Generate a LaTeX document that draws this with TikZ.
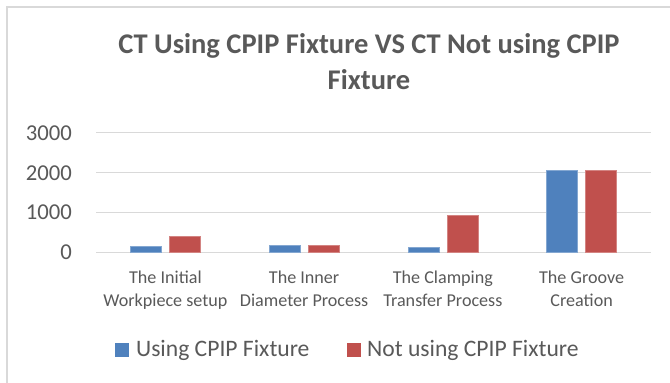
\documentclass[tikz,border=0pt]{standalone}
\usepackage{fontspec}
\setmainfont{Carlito}
\usetikzlibrary{positioning}

\definecolor{usingblue}{HTML}{4F81BD}
\definecolor{notusingred}{HTML}{C0504D}
\definecolor{gridgray}{HTML}{D9D9D9}
\definecolor{labelgray}{HTML}{595959}

\begin{document}
\begin{tikzpicture}[
		x=1pt,
		y=-1pt,
		every node/.style={
			text=labelgray,
			inner sep=0pt,
		},
		gridline/.style={
			draw=gridgray,
			line width=1.5pt,
		},
		ticklabel/.style={
			anchor=east,
			font=\fontsize{22.7}{24}\selectfont,
		},
		catlabel/.style={
			anchor=north,
			align=center,
			font=\fontsize{18.1}{22.5}\selectfont,
		},
		usingbar/.style={
			fill=usingblue,
			draw=usingblue!70!white,
			line width=0.6pt,
		},
		notusingbar/.style={
			fill=notusingred,
			draw=notusingred!70!white,
			line width=0.6pt,
		},
		legendkey/.style={
			minimum size=14pt,
			draw=none,
		},
		legendtext/.style={
			font=\fontsize{23.6}{26}\selectfont,
		},
	]
		\useasboundingbox (0,0) rectangle (670,383);

		% chart frame
		\draw[draw=gridgray, line width=1.5pt] (7,383) -- (7,7) -- (670,7);

		% title
		\node[anchor=north, align=center, font=\fontsize{28.5}{36}\selectfont\bfseries]
			(title) at (369,33.5) {CT Using CPIP Fixture VS CT Not using CPIP\\Fixture};

		% gridlines and axis values
		\foreach \val [count=\i] in {0,1000,2000,3000} {
			\draw[gridline] (96,252.7-\val*0.04) -- (651,252.7-\val*0.04);
			\node[ticklabel] (tick\i) at (72,252.7-\val*0.04) {\val};
		}

		% bars
		\foreach \cx/\vusing/\vnot in {165.4/150/410, 304.1/185/185, 442.9/145/935, 581.6/2050/2050} {
			\draw[usingbar] (\cx-35,252.7) rectangle (\cx-4,252.7-\vusing*0.04);
			\draw[notusingbar] (\cx+4,252.7) rectangle (\cx+35,252.7-\vnot*0.04);
		}

		% categories
		\node[catlabel] (catinitial) at (165.4,271) {The Initial\\Workpiece setup};
		\node[catlabel] (catinner) at (304.1,271) {The Inner\\Diameter Process};
		\node[catlabel] (catclamping) at (442.9,271) {The Clamping\\Transfer Process};
		\node[catlabel] (catgroove) at (581.6,271) {The Groove\\Creation};

		% legend
		\node[legendkey, fill=usingblue] (keyusing) at (122,350.3) {};
		\node[legendtext, right=6.7pt of keyusing] (textusing) {Using CPIP Fixture};
		\node[legendkey, fill=notusingred] (keynotusing) at (354.3,350.3) {};
		\node[legendtext, right=5.4pt of keynotusing] (textnotusing) {Not using CPIP Fixture};
	\end{tikzpicture}
\end{document}
